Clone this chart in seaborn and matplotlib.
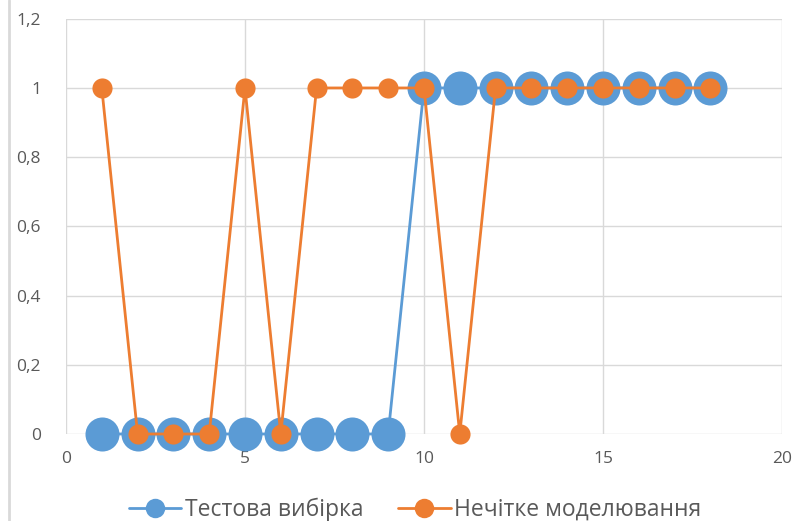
import matplotlib
matplotlib.use("Agg")
import matplotlib.pyplot as plt
from matplotlib.lines import Line2D
from matplotlib.ticker import FuncFormatter, MultipleLocator
import seaborn as sns

# data
x_values = list(range(1, 19))
test_sample = [0, 0, 0, 0, 0, 0, 0, 0, 0, 1, 1, 1, 1, 1, 1, 1, 1, 1]
fuzzy_model = [1, 0, 0, 0, 1, 0, 1, 1, 1, 1, 0, 1, 1, 1, 1, 1, 1, 1]
series_names = ["Тестова вибірка", "Нечітке моделювання"]

blue = "#5B9BD5"
orange = "#ED7D31"
grid_color = "#D9D9D9"
text_color = "#595959"

sns.set_style("white")
plt.rcParams['font.family'] = ['Open Sans', 'DejaVu Sans']

fig = plt.figure(figsize=(7.95, 5.21), dpi=100)
ax = fig.add_axes([0.083, 0.167, 0.9006, 0.797])

# test sample: large blue circles
sns.lineplot(x=x_values, y=test_sample, ax=ax, color=blue, linewidth=2.0,
             marker='o', markersize=24.5, markeredgewidth=0, sort=False,
             zorder=3, legend=False)
# fuzzy modelling: smaller orange circles on top
sns.lineplot(x=x_values, y=fuzzy_model, ax=ax, color=orange, linewidth=2.0,
             marker='o', markersize=14.5, markeredgewidth=0, sort=False,
             zorder=4, legend=False)
for line in ax.lines:
    line.set_clip_on(False)

ax.set_xlim(0, 20)
ax.set_ylim(0, 1.2)
ax.xaxis.set_major_locator(MultipleLocator(5))
ax.yaxis.set_major_locator(MultipleLocator(0.2))


def comma_fmt(v, pos):
    s = f"{v:.1f}".rstrip('0').rstrip('.')
    return s.replace('.', ',')


ax.yaxis.set_major_formatter(FuncFormatter(comma_fmt))
ax.grid(True, color=grid_color, linewidth=1.0)
ax.set_axisbelow(True)
for sp in ax.spines.values():
    sp.set_visible(False)
ax.tick_params(axis='both', length=0, labelsize=12.5, colors=text_color)
ax.tick_params(axis='y', pad=18)
ax.tick_params(axis='x', pad=12)

handles = [
    Line2D([0], [0], color=blue, linewidth=2.0, marker='o', markersize=14,
           markeredgewidth=0),
    Line2D([0], [0], color=orange, linewidth=2.0, marker='o', markersize=14,
           markeredgewidth=0),
]
fig.legend(handles, series_names, loc='center', bbox_to_anchor=(0.522, 0.022),
           ncol=2, frameon=False, fontsize=16.5, labelcolor=text_color,
           handlelength=2.3, handletextpad=0.15, columnspacing=1.5)

# chart area border on the left edge
fig.add_artist(Line2D([0.011, 0.011], [0, 1], transform=fig.transFigure,
                      color=grid_color, linewidth=2.0))

fig.savefig("out.png", dpi=100)
